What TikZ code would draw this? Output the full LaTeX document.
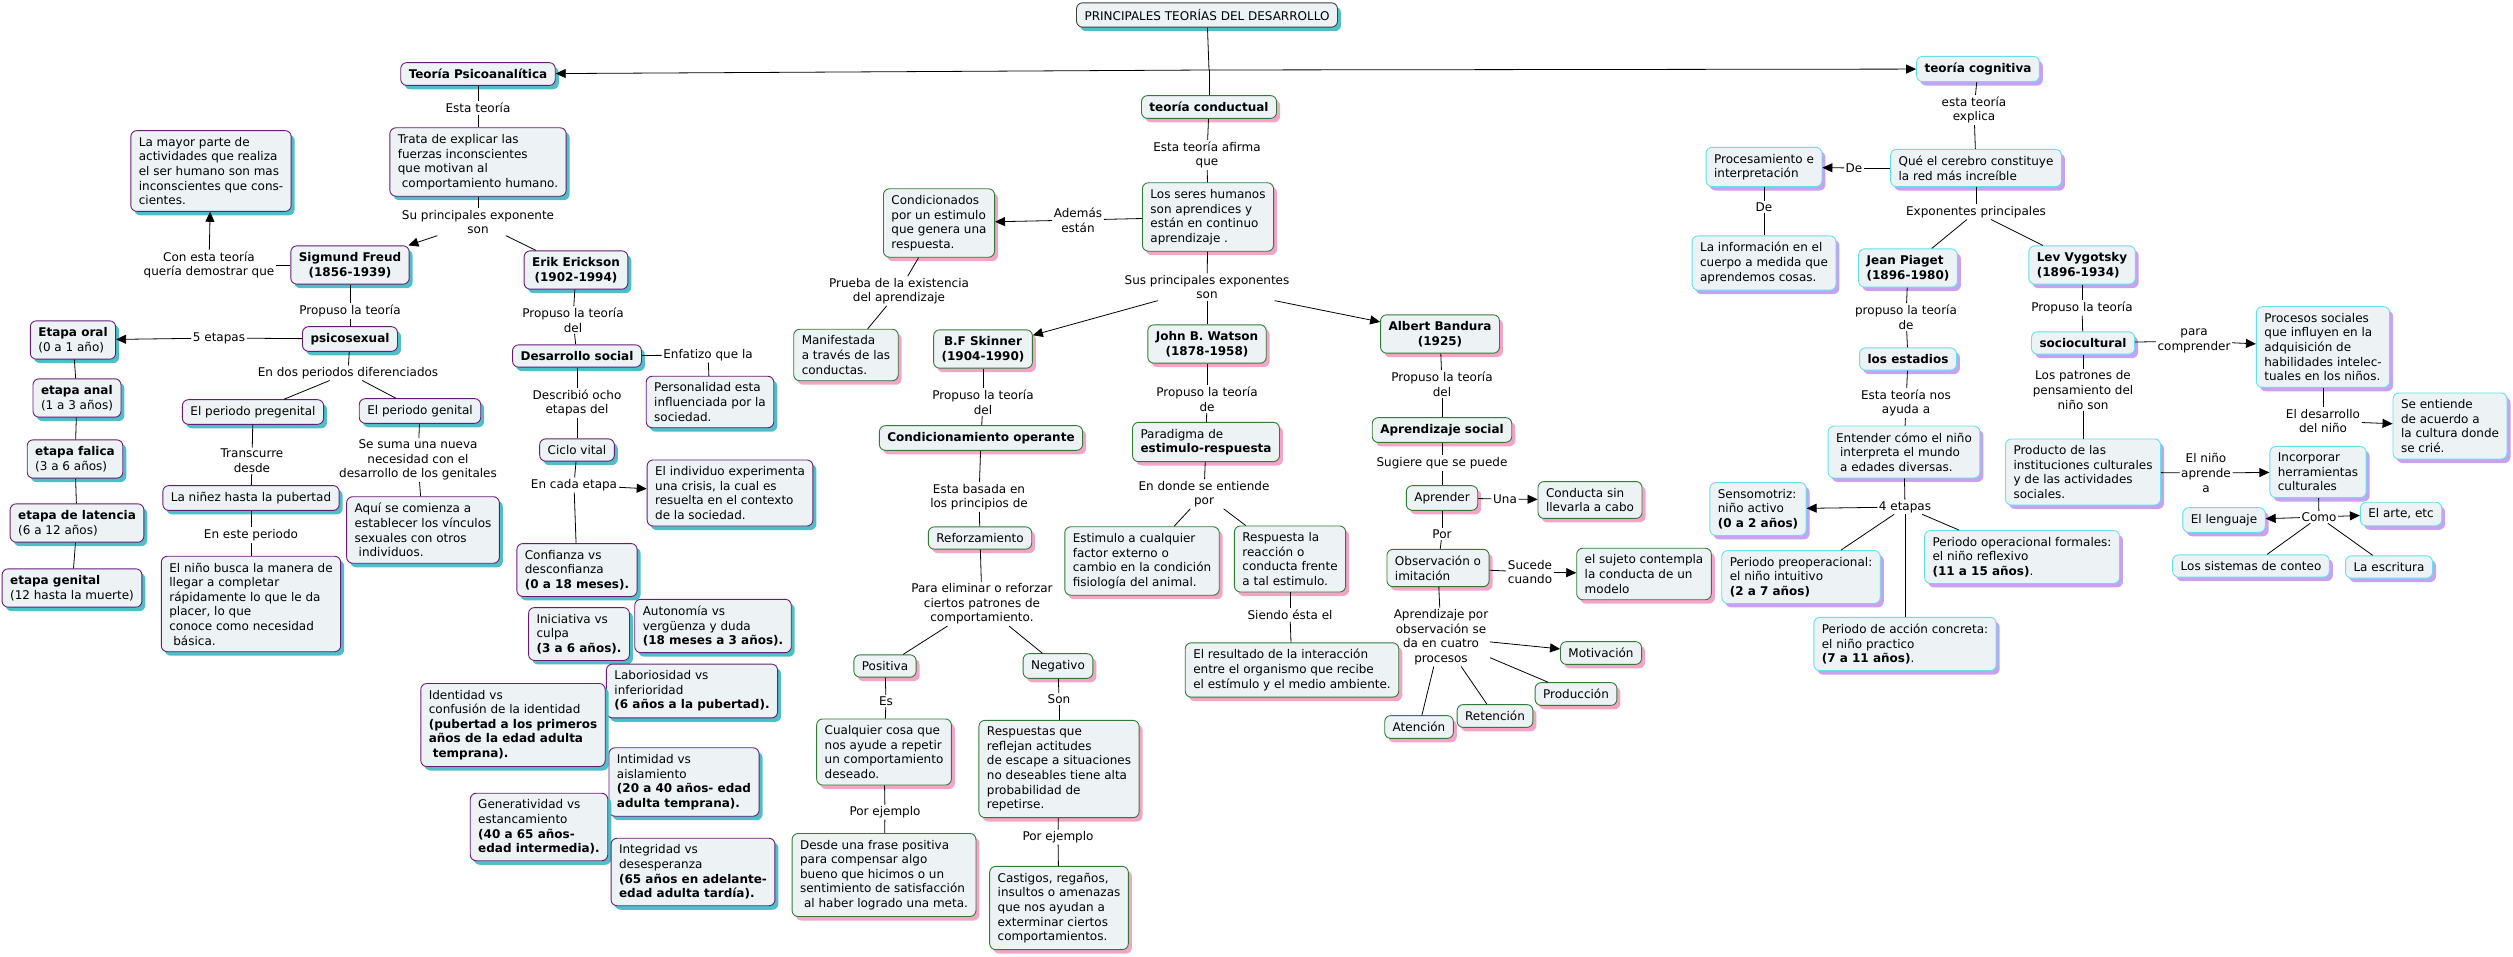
\documentclass[tikz,border=0pt]{standalone}
\usepackage{fontspec}
\setmainfont{DejaVu Sans}
\usetikzlibrary{arrows.meta,shadows}
\definecolor{boxfill}{HTML}{EDF3F5}
\definecolor{psline}{HTML}{6A1B7A}
\definecolor{psshade}{HTML}{4CC0C6}
\definecolor{cdline}{HTML}{2E7D32}
\definecolor{cdshade}{HTML}{F5A3C7}
\definecolor{cgline}{HTML}{5DE3EC}
\definecolor{cgshade}{HTML}{C8A2F0}
\newcommand{\mapfont}{\fontsize{12}{14.6}\selectfont}
\tikzset{
  cbox/.style={draw,rounded corners=6pt,fill=boxfill,line width=0.9pt,
    inner xsep=8pt,inner ysep=6.5pt,align=left,font=\mapfont},
  rootbox/.style={cbox,draw=black!75,drop shadow={shadow xshift=3.5pt,shadow yshift=-4pt,fill=psshade,opacity=1}},
  psbox/.style={cbox,draw=psline,drop shadow={shadow xshift=3.5pt,shadow yshift=-4pt,fill=psshade,opacity=1}},
  cdbox/.style={cbox,draw=cdline,drop shadow={shadow xshift=3.5pt,shadow yshift=-4pt,fill=cdshade,opacity=1}},
  cgbox/.style={cbox,draw=cgline,drop shadow={shadow xshift=3.5pt,shadow yshift=-4pt,fill=cgshade,opacity=1}},
  bold/.style={font=\mapfont\bfseries,align=center},
  lnk/.style={inner sep=1.5pt,align=center,font=\mapfont},
  con/.style={line width=0.8pt},
  carr/.style={con,-{Triangle[length=10pt,width=9pt]}},
}
\begin{document}
\begin{tikzpicture}[x=1pt,y=-1pt]
\useasboundingbox (0,0) rectangle (2513,957);

\node[rootbox] (root) at (1207,15) {PRINCIPALES TEORÍAS DEL DESARROLLO};
\coordinate (hub) at (1209,70);

% ---- teoria psicoanalitica ----
\node[psbox,bold] (psico) at (478,74) {Teoría Psicoanalítica};
\node[lnk] (lEsta) at (478,108) {Esta teoría};
\node[psbox] (trata) at (478,162) {Trata de explicar las\\fuerzas inconscientes\\que motivan al\\\hspace*{4pt}comportamiento humano.};
\node[lnk] (lExpo) at (478,222) {Su principales exponente\\son};
\node[psbox,bold] (freud) at (350,265) {Sigmund Freud\\(1856-1939)};
\node[psbox,bold] (erik) at (576,270) {Erik Erickson\\(1902-1994)};
\node[lnk] (lQueria) at (209,265) {Con esta teoría\\quería demostrar que};
\node[psbox] (mayor) at (211,171) {La mayor parte de\\actividades que realiza\\el ser humano son mas\\inconscientes que cons-\\cientes.};
\node[lnk] (lPropF) at (350,311) {Propuso la teoría};
\node[psbox,bold] (psicosex) at (350,339) {psicosexual};
\node[lnk] (lCinco) at (219,338) {5 etapas};
\node[psbox] (oral) at (73,340) {\textbf{Etapa oral}\\(0 a 1 año)};
\node[psbox] (anal) at (77,398) {\textbf{etapa anal}\\(1 a 3 años)};
\node[psbox] (falica) at (75,459) {\textbf{etapa falica}\\(3 a 6 años)};
\node[psbox] (latencia) at (77,523) {\textbf{etapa de latencia}\\(6 a 12 años)};
\node[psbox] (genital) at (72,588) {\textbf{etapa genital}\\(12 hasta la muerte)};
\node[lnk] (lDos) at (348,373) {En dos periodos diferenciados};
\node[psbox] (pregen) at (253,412) {El periodo pregenital};
\node[psbox] (perigen) at (420,411) {El periodo genital};
\node[lnk] (lTransc) at (252,461) {Transcurre\\desde};
\node[psbox] (ninez) at (251,498) {La niñez hasta la pubertad};
\node[lnk] (lEste) at (251,535) {En este periodo};
\node[psbox] (busca) at (251,604) {El niño busca la manera de\\llegar a completar\\rápidamente lo que le da\\placer, lo que\\conoce como necesidad\\\hspace*{4pt}básica.};
\node[lnk] (lSuma) at (418,460) {Se suma una nueva\\necesidad con el\\desarrollo de los genitales};
\node[psbox] (aqui) at (423,530) {Aquí se comienza a\\establecer los vínculos\\sexuales con otros\\\hspace*{4pt}individuos.};
\node[lnk] (lPropE) at (573,320) {Propuso la teoría\\del};
\node[psbox,bold] (dsocial) at (577,356) {Desarrollo social};
\node[lnk] (lEnfat) at (708,355) {Enfatizo que la};
\node[psbox] (personal) at (710,402) {Personalidad esta\\influenciada por la\\sociedad.};
\node[lnk] (lOcho) at (577,403) {Describió ocho\\etapas del};
\node[psbox] (ciclo) at (577,450) {Ciclo vital};
\node[lnk] (lCada) at (574,485) {En cada etapa};
\node[psbox] (crisis) at (730,493) {El individuo experimenta\\una crisis, la cual es\\resuelta en el contexto\\de la sociedad.};
\node[psbox] (confianza) at (577,570) {Confianza vs\\desconfianza\\\textbf{(0 a 18 meses).}};
\node[psbox] (iniciativa) at (579,634) {Iniciativa vs\\culpa\\\textbf{(3 a 6 años).}};
\node[psbox] (autonomia) at (713,626) {Autonomía vs\\vergüenza y duda\\\textbf{(18 meses a 3 años).}};
\node[psbox] (laborios) at (692,691) {Laboriosidad vs\\inferioridad\\\textbf{(6 años a la pubertad).}};
\node[psbox] (identidad) at (513,725) {Identidad vs\\confusión de la identidad\\\textbf{(pubertad a los primeros}\\\textbf{años de la edad adulta}\\\hspace*{4pt}\textbf{temprana).}};
\node[psbox] (intimidad) at (684,782) {Intimidad vs\\aislamiento\\\textbf{(20 a 40 años- edad}\\\textbf{adulta temprana).}};
\node[psbox] (generat) at (539,827) {Generatividad vs\\estancamiento\\\textbf{(40 a 65 años-}\\\textbf{edad intermedia).}};
\node[psbox] (integridad) at (693,872) {Integridad vs\\desesperanza\\\textbf{(65 años en adelante-}\\\textbf{edad adulta tardía).}};

% ---- teoria conductual ----
\node[cdbox,bold] (conduct) at (1209,107) {teoría conductual};
\node[lnk] (lAfirma) at (1207,155) {Esta teoría afirma\\que};
\node[cdbox] (seres) at (1208,217) {Los seres humanos\\son aprendices y\\están en continuo\\aprendizaje .};
\node[lnk] (lAdemas) at (1078,220) {Además\\están};
\node[cdbox] (condic) at (939,223) {Condicionados\\por un estimulo\\que genera una\\respuesta.};
\node[lnk] (lPrueba) at (899,291) {Prueba de la existencia\\del aprendizaje};
\node[cdbox] (manif) at (846,355) {Manifestada\\a través de las\\conductas.};
\node[lnk] (lSus) at (1207,287) {Sus principales exponentes\\son};
\node[cdbox,bold] (skinner) at (983,349) {B.F Skinner\\(1904-1990)};
\node[cdbox,bold] (watson) at (1207,344) {John B. Watson\\(1878-1958)};
\node[cdbox,bold] (bandura) at (1440,334) {Albert Bandura\\(1925)};
\node[lnk] (lPropS) at (983,402) {Propuso la teoría\\del};
\node[cdbox,bold] (operante) at (981,438) {Condicionamiento operante};
\node[lnk] (lBasada) at (979,497) {Esta basada en\\los principios de};
\node[cdbox] (refuerzo) at (980,538) {Reforzamiento};
\node[lnk] (lElim) at (982,604) {Para eliminar o reforzar\\ciertos patrones de\\comportamiento.};
\node[cdbox] (positiva) at (885,666) {Positiva};
\node[cdbox] (negativo) at (1058,666) {Negativo};
\node[lnk] (lEs) at (886,701) {Es};
\node[lnk] (lSon) at (1059,699) {Son};
\node[cdbox] (cualquier) at (884,752) {Cualquier cosa que\\nos ayude a repetir\\un comportamiento\\deseado.};
\node[cdbox] (respuestas) at (1059,769) {Respuestas que\\reflejan actitudes\\de escape a situaciones\\no deseables tiene alta\\probabilidad de\\repetirse.};
\node[lnk] (lEjA) at (885,812) {Por ejemplo};
\node[lnk] (lEjB) at (1058,837) {Por ejemplo};
\node[cdbox] (frase) at (884,875) {Desde una frase positiva\\para compensar algo\\bueno que hicimos o un\\sentimiento de satisfacción\\\hspace*{4pt}al haber logrado una meta.};
\node[cdbox] (castigos) at (1059,908) {Castigos, regaños,\\insultos o amenazas\\que nos ayudan a\\exterminar ciertos\\comportamientos.};
\node[lnk] (lPropW) at (1207,399) {Propuso la teoría\\de};
\node[cdbox] (paradigma) at (1206,442) {Paradigma de\\\textbf{estimulo-respuesta}};
\node[lnk] (lDonde) at (1204,494) {En donde se entiende\\por};
\node[cdbox] (estimulo) at (1142,561) {Estimulo a cualquier\\factor externo o\\cambio en la condición\\fisiología del animal.};
\node[cdbox] (respuesta) at (1290,559) {Respuesta la\\reacción o\\conducta frente\\a tal estimulo.};
\node[lnk] (lSiendo) at (1290,615) {Siendo ésta el};
\node[cdbox] (resultado) at (1292,670) {El resultado de la interacción\\entre el organismo que recibe\\el estímulo y el medio ambiente.};
\node[lnk] (lPropB) at (1442,384) {Propuso la teoría\\del};
\node[cdbox,bold] (apsocial) at (1442,430) {Aprendizaje social};
\node[lnk] (lSugiere) at (1442,463) {Sugiere que se puede};
\node[cdbox] (aprender) at (1442,498) {Aprender};
\node[lnk] (lUna) at (1505,499) {Una};
\node[cdbox] (sinllevar) at (1590,500) {Conducta sin\\llevarla a cabo};
\node[lnk] (lPor) at (1442,534) {Por};
\node[cdbox] (observ) at (1438,568) {Observación o\\imitación};
\node[lnk] (lSucede) at (1530,572) {Sucede\\cuando};
\node[cdbox] (sujeto) at (1644,574) {el sujeto contempla\\la conducta de un\\modelo};
\node[lnk] (lCuatro) at (1441,637) {Aprendizaje por\\observación se\\da en cuatro\\procesos};
\node[cdbox] (motiv) at (1601,653) {Motivación};
\node[cdbox] (produc) at (1576,694) {Producción};
\node[cdbox] (reten) at (1495,716) {Retención};
\node[cdbox] (atenc) at (1419,727) {Atención};

% ---- teoria cognitiva ----
\node[cgbox,bold] (cognit) at (1978,69) {teoría cognitiva};
\node[lnk] (lExplica) at (1974,110) {esta teoría\\explica};
\node[cgbox] (cerebro) at (1976,168) {Qué el cerebro constituye\\la red más increíble};
\node[lnk] (lDeA) at (1854,168) {De};
\node[cgbox] (procesam) at (1764,167) {Procesamiento e\\interpretación};
\node[lnk] (lDeB) at (1764,207) {De};
\node[cgbox] (informac) at (1764,263) {La información en el\\cuerpo a medida que\\aprendemos cosas.};
\node[lnk] (lExpon) at (1976,212) {Exponentes principales};
\node[cgbox,bold,align=left] (piaget) at (1908,268) {Jean Piaget\\(1896-1980)};
\node[cgbox,bold,align=left] (vygotsky) at (2082,265) {Lev Vygotsky\\(1896-1934)};
\node[lnk] (lPropP) at (1906,317) {propuso la teoría\\de};
\node[cgbox,bold] (estadios) at (1908,359) {los estadios};
\node[lnk] (lAyuda) at (1906,403) {Esta teoría nos\\ayuda a};
\node[cgbox] (entender) at (1904,452) {Entender cómo el niño\\\hspace*{4pt}interpreta el mundo\\\hspace*{4pt}a edades diversas.};
\node[lnk] (lEtapas) at (1905,507) {4 etapas};
\node[cgbox] (senso) at (1758,509) {Sensomotriz:\\niño activo\\\textbf{(0 a 2 años)}};
\node[cgbox] (preop) at (1801,577) {Periodo preoperacional:\\el niño intuitivo\\\textbf{(2 a 7 años)}};
\node[cgbox] (concreta) at (1905,644) {Periodo de acción concreta:\\el niño practico\\\textbf{(7 a 11 años)}.};
\node[cgbox] (formales) at (2022,557) {Periodo operacional formales:\\el niño reflexivo\\\textbf{(11 a 15 años)}.};
\node[lnk] (lPropV) at (2082,308) {Propuso la teoría};
\node[cgbox,bold] (sociocult) at (2083,343) {sociocultural};
\node[lnk] (lCompr) at (2194,341) {para\\comprender};
\node[cgbox] (procsoc) at (2323,347) {Procesos sociales\\que influyen en la\\adquisición de\\habilidades intelec-\\tuales en los niños.};
\node[lnk] (lDesarr) at (2323,421) {El desarrollo\\del niño};
\node[cgbox] (seentiende) at (2450,426) {Se entiende\\de acuerdo a\\la cultura donde\\se crié.};
\node[lnk] (lPatron) at (2083,390) {Los patrones de\\pensamiento del\\niño son};
\node[cgbox] (producto) at (2083,472) {Producto de las\\instituciones culturales\\y de las actividades\\sociales.};
\node[lnk] (lAprende) at (2206,473) {El niño\\aprende\\a};
\node[cgbox] (incorp) at (2318,472) {Incorporar\\herramientas\\culturales};
\node[lnk] (lComo) at (2319,517) {Como};
\node[cgbox] (lenguaje) at (2224,520) {El lenguaje};
\node[cgbox] (arte) at (2401,514) {El arte, etc};
\node[cgbox] (conteo) at (2251,566) {Los sistemas de conteo};
\node[cgbox] (escritura) at (2389,567) {La escritura};

% connectors without head
\foreach \a/\b in {root/hub,hub/conduct,
    psico/lEsta,lEsta/trata,trata/lExpo,lExpo/erik,freud/lQueria,freud/lPropF,lPropF/psicosex,
    psicosex/lCinco,oral/anal,anal/falica,falica/latencia,latencia/genital,
    psicosex/lDos,lDos/pregen,lDos/perigen,pregen/lTransc,lTransc/ninez,ninez/lEste,lEste/busca,
    perigen/lSuma,lSuma/aqui,erik/lPropE,lPropE/dsocial,dsocial/lEnfat,lEnfat/personal,
    dsocial/lOcho,lOcho/ciclo,ciclo/lCada,lCada/confianza,
    conduct/lAfirma,lAfirma/seres,seres/lAdemas,condic/lPrueba,lPrueba/manif,seres/lSus,lSus/watson,
    skinner/lPropS,lPropS/operante,operante/lBasada,lBasada/refuerzo,refuerzo/lElim,
    lElim/positiva,lElim/negativo,positiva/lEs,lEs/cualquier,negativo/lSon,lSon/respuestas,
    cualquier/lEjA,lEjA/frase,respuestas/lEjB,lEjB/castigos,
    watson/lPropW,lPropW/paradigma,paradigma/lDonde,lDonde/estimulo,lDonde/respuesta,
    respuesta/lSiendo,lSiendo/resultado,bandura/lPropB,lPropB/apsocial,apsocial/lSugiere,
    lSugiere/aprender,aprender/lUna,aprender/lPor,lPor/observ,observ/lSucede,observ/lCuatro,
    lCuatro/produc,lCuatro/reten,lCuatro/atenc,
    cognit/lExplica,lExplica/cerebro,cerebro/lDeA,procesam/lDeB,lDeB/informac,cerebro/lExpon,
    lExpon/piaget,lExpon/vygotsky,piaget/lPropP,lPropP/estadios,estadios/lAyuda,lAyuda/entender,
    entender/lEtapas,lEtapas/preop,lEtapas/concreta,lEtapas/formales,
    vygotsky/lPropV,lPropV/sociocult,sociocult/lCompr,procsoc/lDesarr,sociocult/lPatron,
    lPatron/producto,producto/lAprende,incorp/lComo,lComo/conteo,lComo/escritura}
  \draw[con] (\a) -- (\b);

% connectors with arrow head
\foreach \a/\b in {hub/psico,hub/cognit,lExpo/freud,lQueria/mayor,lCinco/oral,lCada/crisis,
    lAdemas/condic,lSus/skinner,lSus/bandura,lUna/sinllevar,lSucede/sujeto,lCuatro/motiv,
    lDeA/procesam,lEtapas/senso,lCompr/procsoc,lDesarr/seentiende,lAprende/incorp,
    lComo/lenguaje,lComo/arte}
  \draw[carr] (\a) -- (\b);
\end{tikzpicture}
\end{document}
